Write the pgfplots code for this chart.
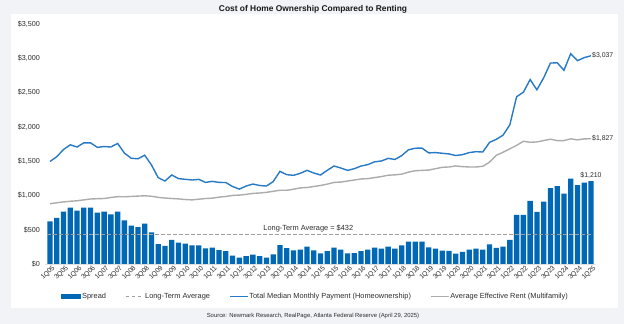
\documentclass[border=0pt]{standalone}
\usepackage{fontspec}
\setmainfont{Liberation Sans}
\usepackage{pgfplots}
\usepackage{pgfplotstable}
\pgfplotsset{compat=1.18}
\definecolor{barblue}{RGB}{0,104,181}
\definecolor{lineblue}{RGB}{38,122,198}
\definecolor{rentgray}{RGB}{172,172,172}
\definecolor{avggray}{RGB}{160,160,160}
\definecolor{bggray}{RGB}{241,243,246}
\definecolor{txt}{RGB}{45,45,45}
\pgfplotstableread{
q spread pay rent
0 622 1495 880
1 674 1565 893
2 764 1670 905
3 822 1738 915
4 780 1706 922
5 822 1767 935
6 822 1767 948
7 750 1701 952
8 764 1713 955
9 724 1706 970
10 764 1758 982
11 635 1618 980
12 559 1543 985
13 538 1534 990
14 590 1587 995
15 460 1445 988
16 290 1259 972
17 266 1210 962
18 352 1298 955
19 310 1245 950
20 297 1235 940
21 273 1225 935
22 273 1234 945
23 227 1190 955
24 239 1205 960
25 204 1190 975
26 189 1188 985
27 121 1130 1000
28 92 1092 1005
29 116 1137 1015
30 136 1166 1030
31 116 1145 1035
32 92 1137 1045
33 141 1201 1060
34 276 1351 1075
35 233 1303 1075
36 199 1293 1090
37 209 1322 1110
38 252 1366 1115
39 199 1327 1130
40 155 1298 1145
41 189 1366 1165
42 238 1429 1190
43 209 1400 1195
44 155 1366 1210
45 160 1390 1225
46 189 1429 1240
47 209 1449 1245
48 238 1490 1260
49 223 1502 1275
50 252 1540 1295
51 223 1525 1300
52 272 1580 1310
53 325 1665 1340
54 325 1688 1360
55 326 1691 1365
56 243 1620 1370
57 224 1625 1390
58 195 1615 1410
59 190 1605 1415
60 151 1582 1430
61 175 1595 1420
62 209 1625 1415
63 224 1638 1415
64 209 1633 1425
65 287 1774 1485
66 234 1818 1585
67 253 1880 1630
68 350 2030 1680
69 715 2440 1730
70 715 2505 1790
71 919 2690 1775
72 759 2540 1780
73 909 2715 1800
74 1108 2930 1820
75 1137 2935 1800
76 1026 2825 1800
77 1244 3067 1825
78 1152 2965 1810
79 1186 3010 1825
80 1210 3037 1827
}\datatable
\begin{document}
\begin{tikzpicture}
\fill[bggray] (0pt,0pt) rectangle (624pt,324pt);
\fill[white] (11pt,16pt) rectangle (618pt,310pt);
\node[font=\bfseries\fontsize{8.4}{10}\selectfont, text=black!90] at (313pt,315pt) {Cost of Home Ownership Compared to Renting};
\node[font=\fontsize{5.9}{7}\selectfont, text=txt] at (313pt,8pt) {Source: Newmark Research, RealPage, Atlanta Federal Reserve (April 29, 2025)};
\begin{axis}[
  at={(45pt,60pt)}, anchor=south west,
  width=551pt, height=240pt, scale only axis,
  xmin=-0.74, xmax=80.74, ymin=0, ymax=3500,
  clip=false,
  axis x line*=bottom, axis y line*=left,
  x axis line style={draw=black!12, line width=0.5pt},
  y axis line style={draw=none},
  xtick={0,2,...,80},
  xticklabels={1Q05,3Q05,1Q06,3Q06,1Q07,3Q07,1Q08,3Q08,1Q09,3Q09,1Q10,3Q10,1Q11,3Q11,1Q12,3Q12,1Q13,3Q13,1Q14,3Q14,1Q15,3Q15,1Q16,3Q16,1Q17,3Q17,1Q18,3Q18,1Q19,3Q19,1Q20,3Q20,1Q21,3Q21,1Q22,3Q22,1Q23,3Q23,1Q24,3Q24,1Q25},
  x tick style={draw=black!12, line width=0.4pt},
  y tick style={draw=none},
  major tick length=2pt, tick align=outside,
  xticklabel style={font=\fontsize{6.7}{7}\selectfont, text=txt, rotate=45, anchor=east, inner sep=0pt, xshift=2pt, yshift=-3.5pt},
  ytick={0,500,...,3500},
  yticklabels={\$0,\$500,{\$1,000},{\$1,500},{\$2,000},{\$2,500},{\$3,000},{\$3,500}},
  yticklabel style={font=\fontsize{7.2}{8}\selectfont, text=txt, anchor=east, inner sep=0pt, xshift=-3pt},
  legend columns=4,
  legend style={at={(0.49,-0.136)}, anchor=center, draw=none, fill=none,
    font=\fontsize{7.4}{8}\selectfont, text=txt, inner xsep=0pt, inner ysep=0pt,
    /tikz/every even column/.append style={column sep=18pt},
    nodes={inner xsep=1pt, inner ysep=0.5pt}},
  legend cell align=left,
]
\addplot[ybar, bar width=5.3pt, fill=barblue, draw=none,
  legend image code/.code={\fill[barblue] (0pt,-2.6pt) rectangle (20pt,2.6pt);}]
  table[x=q, y=spread] {\datatable};
\addlegendentry{Spread}
\addplot[avggray, line width=1.1pt, dash pattern=on 3.6pt off 2.4pt,
  legend image code/.code={\draw[avggray, line width=1.1pt, dash pattern=on 3.6pt off 2.4pt] (0pt,0pt) -- (18pt,0pt);}]
  coordinates {(-0.4,432) (80.4,432)};
\addlegendentry{Long-Term Average}
\addplot[lineblue, line width=1.4pt,
  legend image code/.code={\draw[lineblue, line width=1.4pt] (0pt,0pt) -- (18pt,0pt);}]
  table[x=q, y=pay] {\datatable};
\addlegendentry{Total Median Monthly Payment (Homeownership)}
\addplot[rentgray, line width=1.4pt,
  legend image code/.code={\draw[rentgray, line width=1.4pt] (0pt,0pt) -- (18pt,0pt);}]
  table[x=q, y=rent] {\datatable};
\addlegendentry{Average Effective Rent (Multifamily)}
\node[font=\fontsize{7.4}{8}\selectfont, text=txt, anchor=south, inner sep=1pt, yshift=1pt] at (axis cs:38.2,432) {Long-Term Average = \$432};
\node[font=\fontsize{6.9}{8}\selectfont, text=txt, anchor=west, inner sep=1pt] at (axis cs:80,3037) {\$3,037};
\node[font=\fontsize{6.9}{8}\selectfont, text=txt, anchor=west, inner sep=1pt] at (axis cs:80,1827) {\$1,827};
\node[font=\fontsize{6.9}{8}\selectfont, text=txt, anchor=south, inner sep=1pt, yshift=1pt] at (axis cs:80,1210) {\$1,210};
\end{axis}
\end{tikzpicture}
\end{document}
